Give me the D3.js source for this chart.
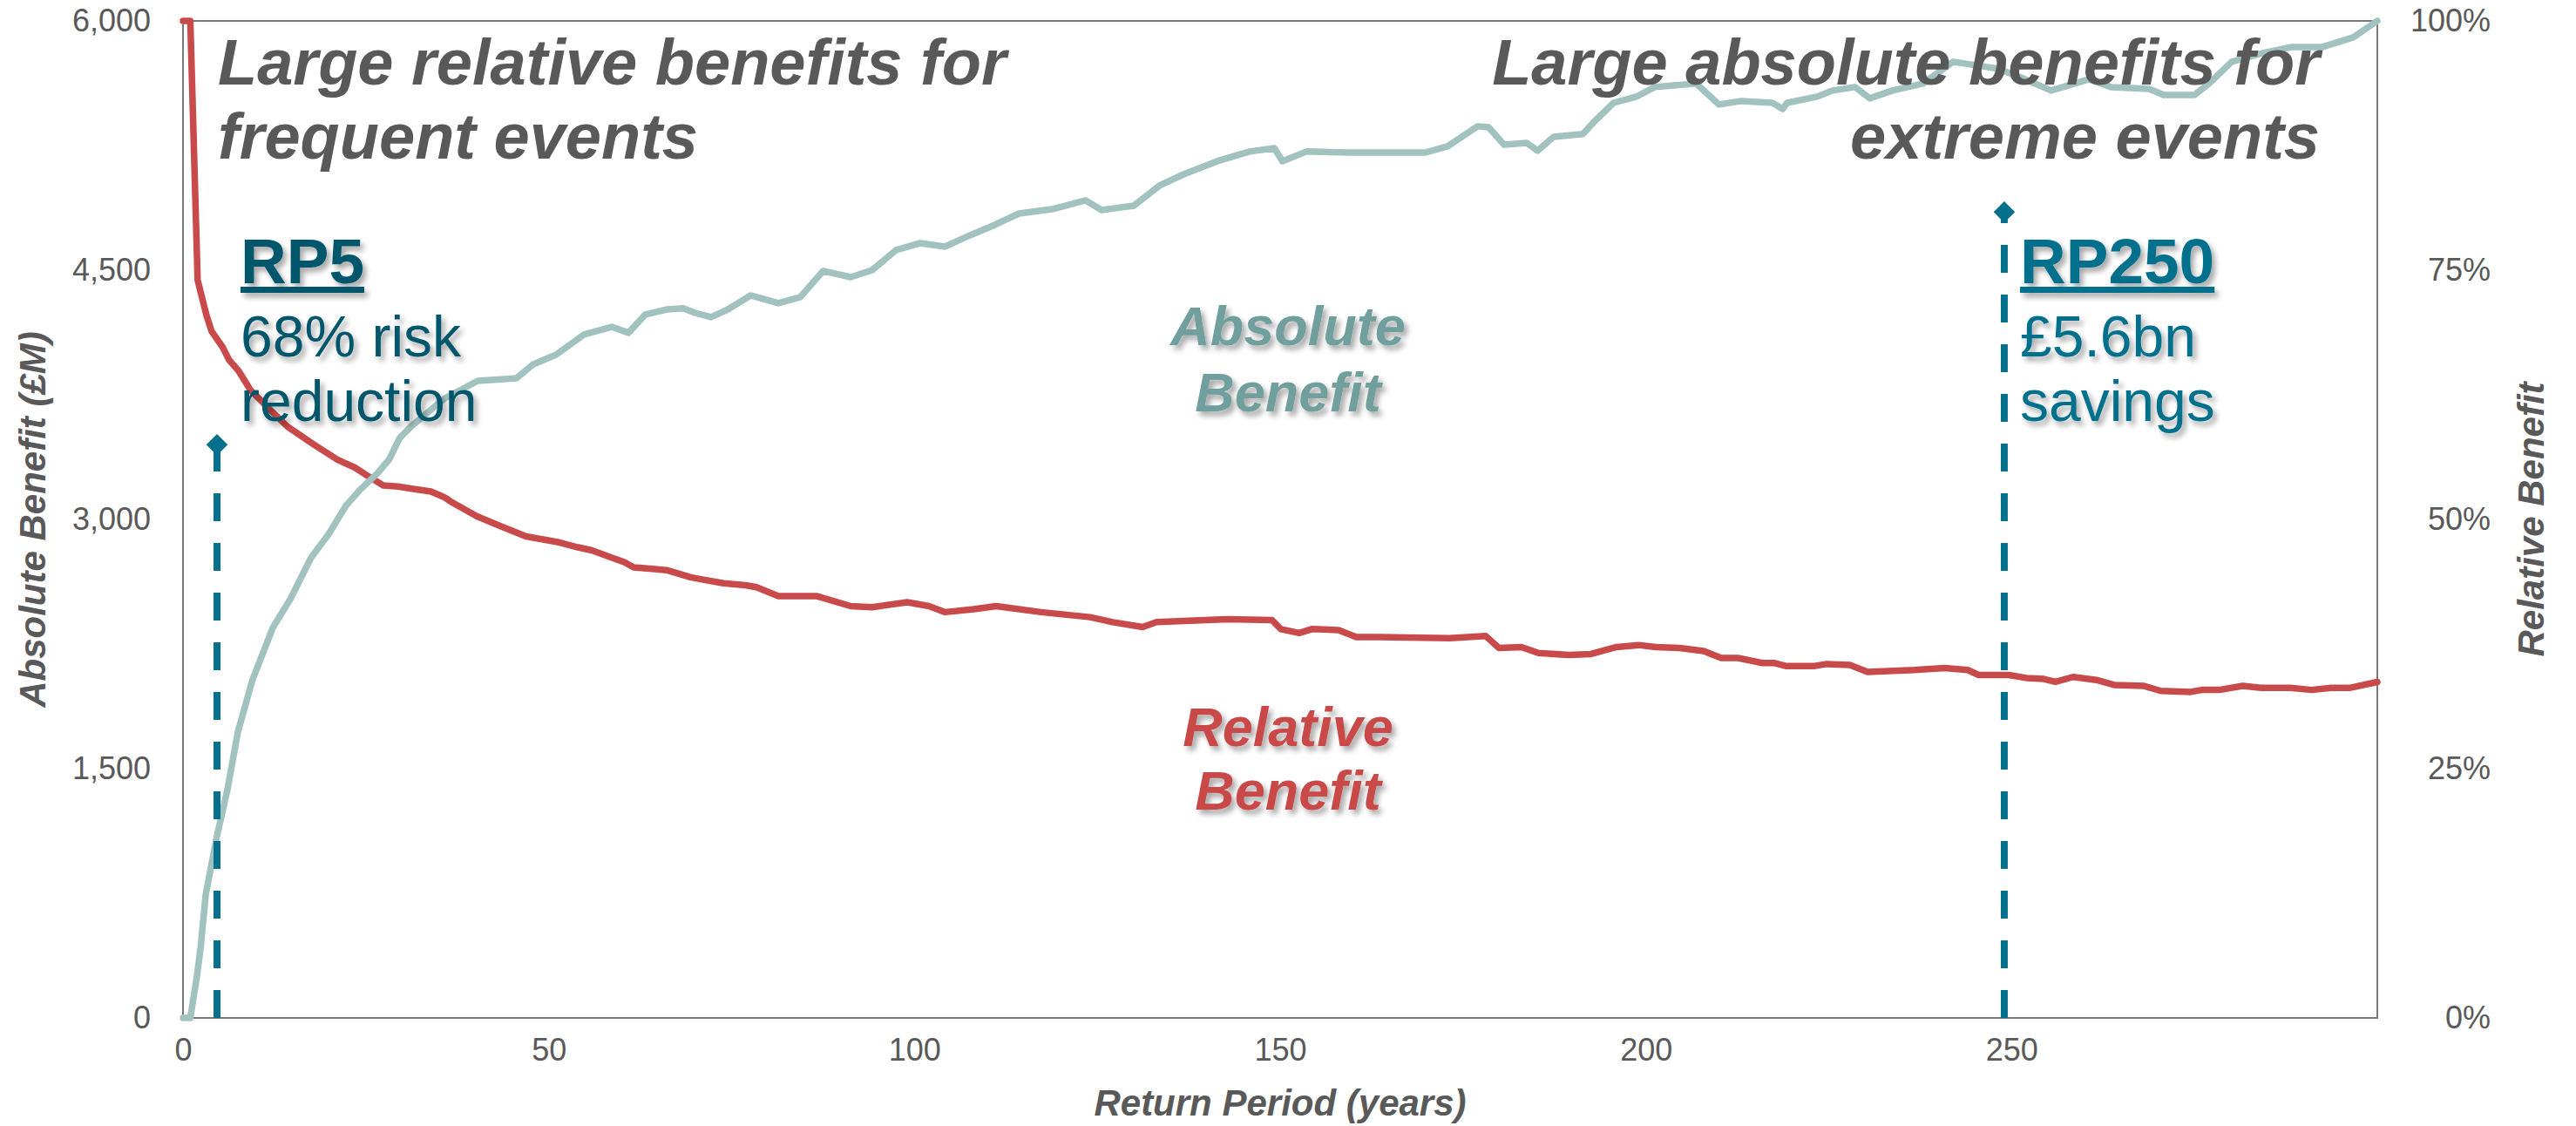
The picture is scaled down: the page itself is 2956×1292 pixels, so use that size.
<!DOCTYPE html>
<html>
<head>
<meta charset="utf-8">
<script src="https://cdn.jsdelivr.net/npm/d3@7"></script>
<style>
  body { margin: 0; background: #fff; }
  svg { display: block; font-family: "Liberation Sans", Arial, sans-serif; }
</style>
</head>
<body>
<div id="chart"></div>
<script>
// Return periods and values.
// Relative benefit (right axis, %).
let relRP = [0, 1, 2, 3.2, 3.9, 5.4, 6.3, 7.6, 9.2, 11.9, 14.3, 17.9, 21.1, 23.5, 25.4, 27.4, 29.4, 31.1, 33.9, 35.8,
  36.8, 40.2, 43.5, 46.9, 51.4, 54.0, 55.9, 58.5, 60.4, 61.6, 64.9, 66.2, 69.4, 70.8, 73.9, 76.9, 78.4, 81.4, 86.7, 91.3,
  94.2, 99.0, 102.0, 104.2, 108.1, 111.2, 117.3, 124.0, 127.1, 131.2, 133.1, 142.8, 148.9, 150.1, 152.6, 154.3, 158.0, 160.4, 163.5, 173.2,
  178.1, 179.9, 183.0, 185.3, 189.5, 192.5, 196.0, 199.0, 201.4, 204.6, 207.9, 210.3, 212.6, 215.9, 217.5, 219.1, 223.1, 224.7, 227.9, 230.3,
  236.7, 240.8, 244.0, 245.5, 249.6, 252.0, 254.4, 256.0, 258.4, 261.6, 264.0, 268.1, 270.4, 274.5, 276.0, 278.4, 281.6, 284.1, 288.1, 291.0,
  293.7, 296.2, 300];
let relValues = [100, 100, 74, 70.5, 68.9, 67.3, 66.0, 64.9, 63.0, 61.0, 59.3, 57.5, 56.0, 55.2, 54.3, 53.4, 53.3, 53.1, 52.8, 52.2,
  51.7, 50.3, 49.3, 48.3, 47.7, 47.2, 46.9, 46.2, 45.7, 45.2, 45.0, 44.9, 44.2, 44.0, 43.6, 43.4, 43.2, 42.3, 42.3, 41.3,
  41.2, 41.7, 41.3, 40.7, 41.0, 41.3, 40.7, 40.2, 39.7, 39.2, 39.7, 40.0, 39.9, 39.0, 38.6, 39.0, 38.9, 38.2, 38.2, 38.1,
  38.3, 37.1, 37.2, 36.6, 36.4, 36.5, 37.2, 37.4, 37.2, 37.1, 36.8, 36.1, 36.1, 35.6, 35.6, 35.3, 35.3, 35.5, 35.4, 34.7,
  34.9, 35.1, 34.9, 34.4, 34.4, 34.1, 34.0, 33.7, 34.2, 33.9, 33.4, 33.3, 32.8, 32.7, 32.9, 32.9, 33.3, 33.1, 33.1, 32.9,
  33.1, 33.1, 33.7];

// Absolute benefit (left axis, £M).
let absRP = [0, 1, 1.9, 2.4, 3.1, 4.6, 6.1, 7.5, 9.5, 12.3, 14.7, 17.5, 19.9, 22.3, 24.2, 26.6, 28.2, 29.6, 31.2, 35.8,
  40.3, 45.6, 47.9, 51.0, 54.8, 58.6, 60.9, 63.2, 66.2, 68.4, 70.0, 72.2, 74.5, 77.6, 81.4, 84.4, 87.5, 91.3, 94.2, 97.5,
  100.8, 104.2, 107.6, 111.0, 114.3, 118.8, 123.4, 125.6, 130.0, 133.5, 136.8, 141.4, 145.8, 149.2, 150.3, 153.6, 159.4, 165.7, 169.8, 172.9,
  177.0, 178.5, 180.6, 183.7, 185.2, 187.4, 191.4, 193.0, 195.6, 198.7, 201.2, 203.8, 206.9, 210.0, 213.1, 217.3, 218.7, 219.3, 223.4, 225.5,
  228.6, 230.6, 233.7, 237.9, 242.0, 245.1, 248.2, 251.3, 255.4, 260.6, 263.6, 268.8, 270.8, 275.0, 277.0, 280.1, 284.3, 288.3, 292.5, 296.7,
  300];
let absValues = [0, 0, 250, 420, 740, 1086, 1380, 1720, 2035, 2350, 2523, 2769, 2911, 3084, 3178, 3278, 3362, 3488, 3561, 3729,
  3834, 3850, 3934, 3991, 4112, 4159, 4123, 4233, 4264, 4270, 4243, 4217, 4264, 4348, 4301, 4338, 4495, 4458, 4500, 4621,
  4663, 4642, 4710, 4773, 4841, 4867, 4920, 4862, 4888, 5009, 5077, 5156, 5214, 5234, 5156, 5214, 5208, 5208, 5208, 5245,
  5366, 5360, 5255, 5266, 5219, 5303, 5319, 5397, 5507, 5544, 5602, 5612, 5623, 5497, 5518, 5507, 5470, 5507, 5544, 5581,
  5602, 5534, 5581, 5623, 5754, 5733, 5712, 5659, 5581, 5649, 5602, 5591, 5554, 5554, 5623, 5754, 5806, 5843, 5843, 5901,
  6000];

// Tick labels.
let xTicks = [0, 50, 100, 150, 200, 250];
let yLeftTicks = [0, 1500, 3000, 4500, 6000];
let yRightTicks = [0, 25, 50, 75, 100];

// Marker lines (RP5 and RP250) and the height of their diamond ends (£M).
let markerRP = [4.65, 249.0];
let markerTop = [3450, 4850];

// Dimensions.
let margin = {top: 24, right: 228, bottom: 124, left: 210},
    width = 2956 - margin.left - margin.right,
    height = 1292 - margin.top - margin.bottom;

let grey = "#595959";

let svg = d3.select("#chart")
            .append("svg")
            .attr("width", 2956)
            .attr("height", 1292);

// Soft drop shadow used by the annotation texts.
let defs = svg.append("defs");
defs.append("filter")
    .attr("id", "shadow")
    .attr("x", "-10%").attr("y", "-20%")
    .attr("width", "130%").attr("height", "150%")
    .append("feDropShadow")
    .attr("dx", 4).attr("dy", 5)
    .attr("stdDeviation", 3)
    .attr("flood-color", "#000")
    .attr("flood-opacity", 0.35);

let g = svg.append("g")
           .attr("transform", "translate(" + margin.left + "," + margin.top + ")");

// Scales.
let x = d3.scaleLinear().domain([0, 300]).range([0, width]);
let yL = d3.scaleLinear().domain([0, 6000]).range([height, 0]);
let yR = d3.scaleLinear().domain([0, 100]).range([height, 0]);

// Axes (labels only, the frame is drawn separately).
let xAxis = g.append("g")
   .attr("transform", "translate(0," + height + ")")
   .call(d3.axisBottom(x).tickValues(xTicks).tickSize(0).tickPadding(23));

let yAxisL = g.append("g")
   .call(d3.axisLeft(yL).tickValues(yLeftTicks).tickFormat(d3.format(",")).tickSize(0).tickPadding(37));

let yAxisR = g.append("g")
   .attr("transform", "translate(" + width + ",0)")
   .call(d3.axisRight(yR).tickValues(yRightTicks).tickFormat(function(d) { return d + "%"; }).tickSize(0));

yAxisR.selectAll("text").attr("text-anchor", "end").attr("x", 130);

[xAxis, yAxisL, yAxisR].forEach(function(a) {
    a.select(".domain").remove();
    a.selectAll("text")
     .attr("font-family", "Liberation Sans, Arial, sans-serif")
     .attr("font-size", 36)
     .attr("fill", grey);
});

// Plot frame.
g.append("rect")
 .attr("x", 0).attr("y", 0)
 .attr("width", width).attr("height", height)
 .attr("fill", "none")
 .attr("stroke", "#7a7a7a")
 .attr("stroke-width", 2);

// Relative benefit line.
let relData = relRP.map(function(d, i) { return {rp: d, v: relValues[i]}; });
g.append("path")
 .datum(relData)
 .attr("fill", "none")
 .attr("stroke", "#c94a4a")
 .attr("stroke-width", 7.5)
 .attr("stroke-linejoin", "round")
 .attr("stroke-linecap", "round")
 .attr("d", d3.line()
      .x(function(d) { return x(d.rp); })
      .y(function(d) { return yR(d.v); }));

// Absolute benefit line.
let absData = absRP.map(function(d, i) { return {rp: d, v: absValues[i]}; });
g.append("path")
 .datum(absData)
 .attr("fill", "none")
 .attr("stroke", "#a2c2c0")
 .attr("stroke-width", 7.5)
 .attr("stroke-linejoin", "round")
 .attr("stroke-linecap", "round")
 .attr("d", d3.line()
      .x(function(d) { return x(d.rp); })
      .y(function(d) { return yL(d.v); }));

// Dashed marker lines with diamond ends.
markerRP.forEach(function(rp, i) {
    g.append("line")
     .attr("x1", x(rp)).attr("x2", x(rp))
     .attr("y1", height).attr("y2", yL(markerTop[i]))
     .attr("stroke", "#04708c")
     .attr("stroke-width", 8)
     .attr("stroke-dasharray", "32,25");
    g.append("path")
     .attr("d", d3.symbol().type(d3.symbolSquare).size(300))
     .attr("transform", "translate(" + x(rp) + "," + yL(markerTop[i]) + ") rotate(45)")
     .attr("fill", "#04708c");
});

// Text helper.
function label(parent, txt, px, py, opts) {
    return parent.append("text")
        .attr("x", px).attr("y", py)
        .attr("font-size", opts.size)
        .attr("font-weight", opts.bold ? "bold" : "normal")
        .attr("font-style", opts.italic ? "italic" : "normal")
        .attr("text-anchor", opts.anchor || "start")
        .attr("fill", opts.color)
        .text(txt);
}

// Headline annotations.
let head = {size: 74, bold: true, italic: true, color: grey};
label(svg, "Large relative benefits for", 250, 97, head);
label(svg, "frequent events", 250, 182, head);
label(svg, "Large absolute benefits for", 2662, 97, Object.assign({anchor: "end"}, head));
label(svg, "extreme events", 2662, 182, Object.assign({anchor: "end"}, head));

// Callouts with an underlined heading.
function callout(px, color, title, line1, line2) {
    let c = svg.append("g").attr("filter", "url(#shadow)");
    let t = label(c, title, px, 325, {size: 73, bold: true, color: color});
    let w = t.node().getComputedTextLength();
    c.append("rect")
     .attr("x", px).attr("y", 329)
     .attr("width", w).attr("height", 7)
     .attr("fill", color);
    label(c, line1, px, 409, {size: 66, color: color});
    label(c, line2, px, 483, {size: 66, color: color});
}
callout(276, "#03566b", "RP5", "68% risk", "reduction");
callout(2318, "#04708c", "RP250", "£5.6bn", "savings");

// Series labels.
let absLab = svg.append("g").attr("filter", "url(#shadow)");
label(absLab, "Absolute", 1478, 396, {size: 63, bold: true, italic: true, anchor: "middle", color: "#6f9f9d"});
label(absLab, "Benefit", 1478, 472, {size: 63, bold: true, italic: true, anchor: "middle", color: "#6f9f9d"});
let relLab = svg.append("g").attr("filter", "url(#shadow)");
label(relLab, "Relative", 1478, 856, {size: 63, bold: true, italic: true, anchor: "middle", color: "#c94a4a"});
label(relLab, "Benefit", 1478, 929, {size: 63, bold: true, italic: true, anchor: "middle", color: "#c94a4a"});

// Axis titles.
let axisTitle = {size: 42, bold: true, italic: true, anchor: "middle", color: grey};
label(svg, "Return Period (years)", margin.left + width / 2, 1280, axisTitle);
label(svg, "Absolute Benefit (£M)", 0, 0, axisTitle)
    .attr("transform", "translate(52," + (margin.top + height / 2) + ") rotate(-90)");
label(svg, "Relative Benefit", 0, 0, axisTitle)
    .attr("transform", "translate(2919," + (margin.top + height / 2) + ") rotate(-90)");
</script>
</body>
</html>
